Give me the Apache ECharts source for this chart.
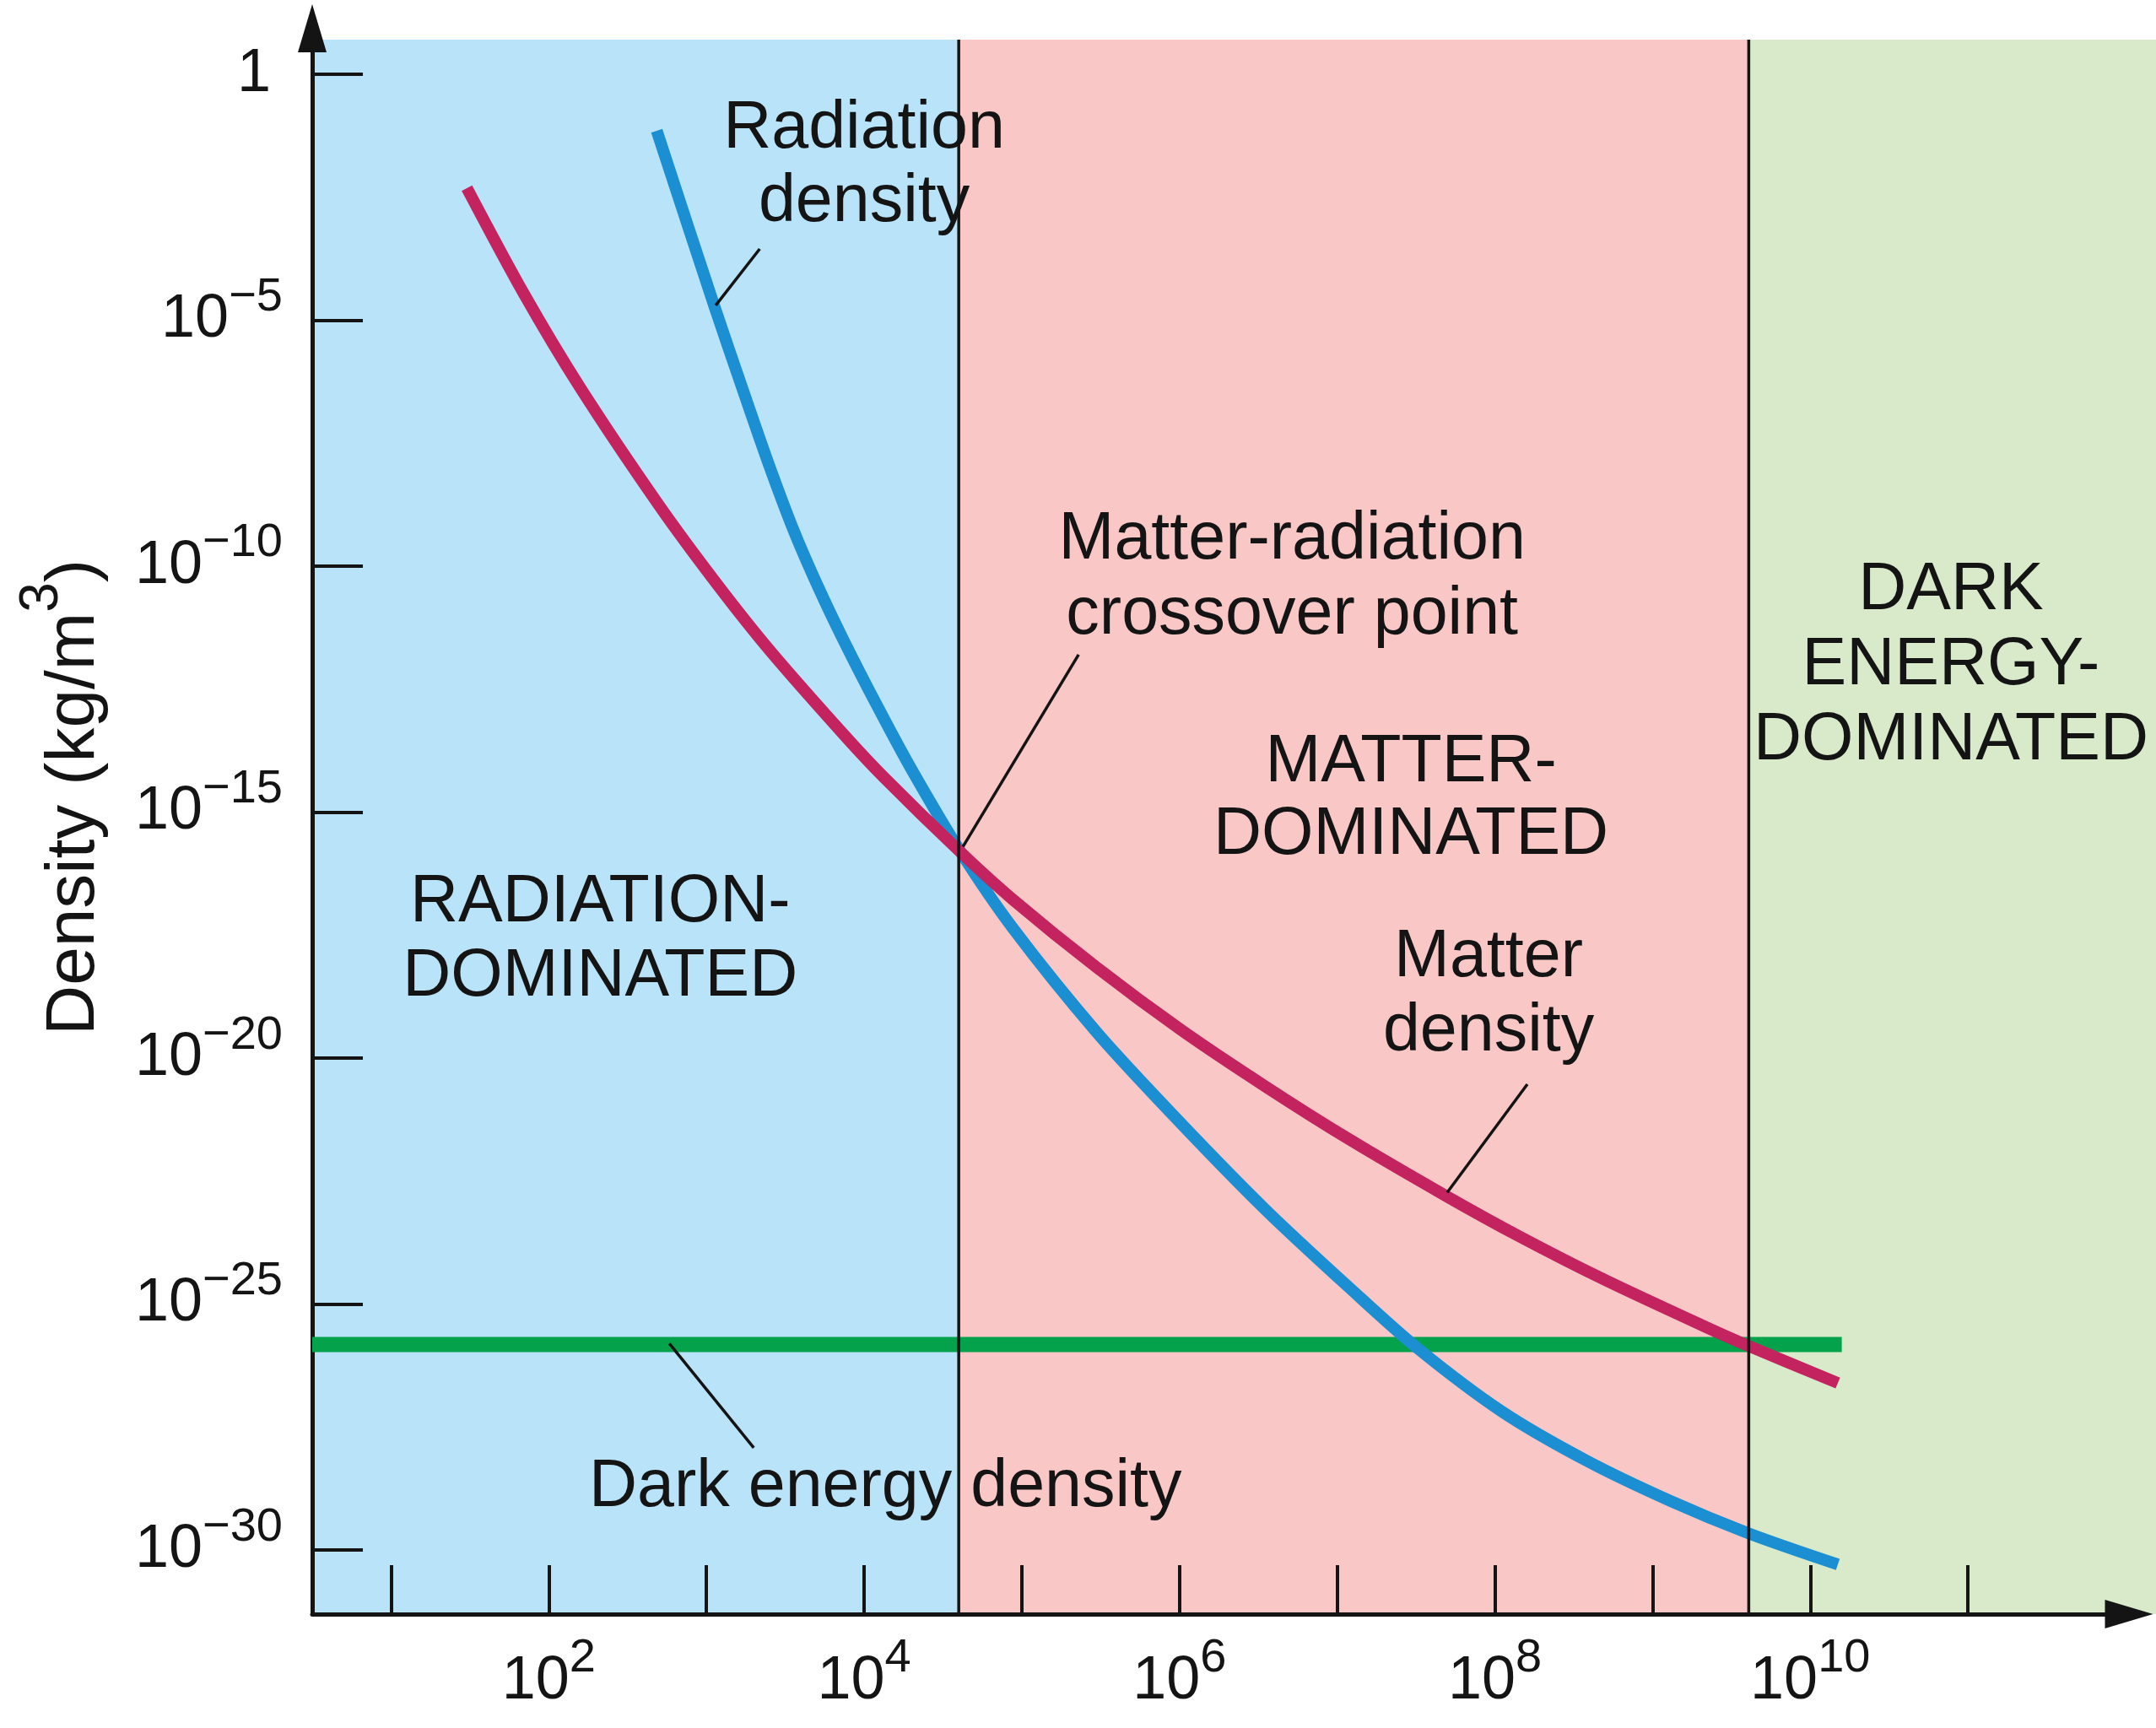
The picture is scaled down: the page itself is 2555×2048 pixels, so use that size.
<!DOCTYPE html>
<html>
<head>
<meta charset="utf-8">
<title>Density of the universe over time</title>
<script src="https://cdn.jsdelivr.net/npm/echarts@6/dist/echarts.min.js"></script>
<style>
  html, body { margin: 0; padding: 0; background: #ffffff; }
  #chart { width: 2555px; height: 2048px; }
</style>
</head>
<body>
<div id="chart"></div>
<script>
// All values are log10: x = log10(time in years), y = log10(density in kg/m^3)
const radiationDensity = [
  [2.685, -1.153], [3.054, -4.754], [3.231, -6.417], [3.391, -7.892], [3.552, -9.264],
  [3.712, -10.447], [3.873, -11.528], [4.087, -12.866], [4.301, -14.135], [4.606, -15.781],
  [4.943, -17.359], [5.478, -19.486], [6.013, -21.338], [6.548, -23.088], [7.083, -24.683],
  [7.511, -25.901], [8.046, -27.187], [8.581, -28.182], [9.116, -29.005], [9.608, -29.657],
  [10.175, -30.291]
];
const matterDensity = [
  [1.481, -2.318], [1.839, -4.445], [2.198, -6.366], [2.696, -8.749], [3.070, -10.378],
  [3.407, -11.733], [3.873, -13.431], [4.124, -14.289], [4.606, -15.798], [4.943, -16.776],
  [5.478, -18.165], [6.013, -19.434], [6.548, -20.583], [7.083, -21.664], [7.687, -22.795],
  [8.153, -23.619], [8.688, -24.493], [9.330, -25.454], [9.608, -25.849], [10.175, -26.603]
];
const darkEnergyDensity = [[0.5, -25.82], [10.2, -25.82]];

// era boundaries, log10(years)
const eraBounds = [[0.5, 4.6], [4.6, 9.61], [9.61, 12.2]];
const eraDividers = [4.6, 9.61];

// tick positions (exponents)
const xTickValues = [1, 2, 3, 4, 5, 6, 7, 8, 9, 10, 11];
const xLabelValues = [2, 4, 6, 8, 10];
const yTickValues = [0, -5, -10, -15, -20, -25, -30];

// annotation texts
const noteTexts = [
  'Radiation\ndensity',
  'Matter-radiation\ncrossover point',
  'RADIATION-\nDOMINATED',
  'MATTER-\nDOMINATED',
  'DARK\nENERGY-\nDOMINATED',
  'Matter\ndensity',
  'Dark energy density'
];

// ---- layout / style ----
const X_MIN = 0.5, X_MAX = 12, Y_MIN = -31.3, Y_MAX = 0.7;
const FONT = '"Liberation Sans", Arial, Helvetica, sans-serif';
const INK = '#141414';
const eraColors = ['#b9e3f8', '#f8c7c6', '#d9eacb'];
const noteAnchors = [
  [4.0, -1.864], [6.714, -10.242], [2.326, -17.60], [7.468, -14.74],
  [10.892, -12.025], [7.96, -18.715], [4.135, -28.73]
];
const noteLineHeight = [87, 89, 88, 86, 89, 88, 88];
const leaderLines = [
  [3.338, -3.553, 3.059, -4.70],
  [5.360, -11.80, 4.627, -15.70],
  [8.206, -20.53, 7.698, -22.73],
  [2.765, -25.80, 3.300, -27.92]
];

const tickRich = {
  b: { fontSize: 72, fontFamily: FONT, color: INK, lineHeight: 110 },
  s: { fontSize: 56, fontFamily: FONT, color: INK, lineHeight: 48, verticalAlign: 'top' },
  one: { fontSize: 72, fontFamily: FONT, color: INK, lineHeight: 110, padding: [0, 14, 0, 0] }
};

const chart = echarts.init(document.getElementById('chart'), null, { renderer: 'canvas' });

const option = {
  animation: false,
  backgroundColor: '#ffffff',
  grid: { left: 370, top: 47, right: 36, bottom: 135, containLabel: false, outerBoundsMode: 'none' },
  xAxis: {
    type: 'value', min: X_MIN, max: X_MAX, z: 3,
    axisLine: {
      show: true, onZero: false,
      symbol: ['none', 'triangle'], symbolSize: [34, 57], symbolOffset: [0, 4],
      lineStyle: { color: INK, width: 5 }
    },
    axisTick: { show: true, inside: true, length: 58, customValues: xTickValues, lineStyle: { color: INK, width: 4 } },
    axisLabel: {
      show: true, customValues: xLabelValues, margin: 25,
      formatter: v => '{b|10}{s|' + v + '}', rich: tickRich
    },
    splitLine: { show: false }
  },
  yAxis: {
    type: 'value', min: Y_MIN, max: Y_MAX, z: 3,
    name: '{n|Density (kg/m}{s|3}{n|)}',
    nameLocation: 'middle', nameRotate: 90, nameGap: 212, nameMoveOverlap: false,
    nameTextStyle: {
      padding: [0, 0, 0, 70],
      rich: {
        n: { fontSize: 82, fontFamily: FONT, color: INK, lineHeight: 140 },
        s: { fontSize: 64, fontFamily: FONT, color: INK, lineHeight: 60, verticalAlign: 'top' }
      }
    },
    axisLine: {
      show: true, onZero: false,
      symbol: ['none', 'triangle'], symbolSize: [34, 57], symbolOffset: [0, 13.5],
      lineStyle: { color: INK, width: 5 }
    },
    axisTick: { show: true, inside: true, length: 60, customValues: yTickValues, lineStyle: { color: INK, width: 4 } },
    axisLabel: {
      show: true, customValues: yTickValues, margin: 35,
      formatter: v => (v === 0 ? '{one|1}' : '{b|10}{s|\u2212' + (-v) + '}'), rich: tickRich
    },
    splitLine: { show: false }
  },
  series: [
    {
      type: 'custom', name: 'eras', z: 1, silent: true, clip: false,
      data: eraBounds,
      renderItem: (params, api) => {
        const a = api.coord([api.value(0), Y_MAX]);
        const b = api.coord([api.value(1), Y_MIN]);
        return {
          type: 'rect',
          shape: { x: a[0], y: a[1], width: b[0] - a[0], height: b[1] - a[1] },
          style: { fill: eraColors[params.dataIndex] }
        };
      }
    },
    {
      type: 'line', name: 'Dark energy density', data: darkEnergyDensity, z: 4,
      symbol: 'none', showSymbol: false, clip: false,
      lineStyle: { color: '#05a24c', width: 18, cap: 'butt' }
    },
    {
      type: 'line', name: 'Radiation density', data: radiationDensity, z: 4,
      smooth: 0.3, symbol: 'none', showSymbol: false, clip: false,
      lineStyle: { color: '#1b8fd2', width: 14, cap: 'butt' }
    },
    {
      type: 'line', name: 'Matter density', data: matterDensity, z: 4,
      smooth: 0.3, symbol: 'none', showSymbol: false, clip: false,
      lineStyle: { color: '#c3235f', width: 14, cap: 'butt' }
    },
    {
      type: 'custom', name: 'era dividers', z: 5, silent: true, clip: false,
      data: eraDividers.map(v => [v, 0]),
      renderItem: (params, api) => {
        const a = api.coord([api.value(0), Y_MAX]);
        const b = api.coord([api.value(0), Y_MIN]);
        return {
          type: 'line',
          shape: { x1: a[0], y1: a[1], x2: b[0], y2: b[1] },
          style: { stroke: INK, lineWidth: 3.5 }
        };
      }
    },
    {
      type: 'custom', name: 'leaders', z: 6, silent: true, clip: false,
      data: leaderLines,
      renderItem: (params, api) => {
        const a = api.coord([api.value(0), api.value(1)]);
        const b = api.coord([api.value(2), api.value(3)]);
        return {
          type: 'line',
          shape: { x1: a[0], y1: a[1], x2: b[0], y2: b[1] },
          style: { stroke: INK, lineWidth: 3.5 }
        };
      }
    },
    {
      type: 'custom', name: 'notes', z: 7, silent: true, clip: false,
      data: noteAnchors,
      renderItem: (params, api) => {
        const p = api.coord([api.value(0), api.value(1)]);
        const i = params.dataIndex;
        return {
          type: 'text', x: p[0], y: p[1],
          style: {
            text: noteTexts[i], fill: INK,
            font: '79px ' + FONT,
            align: 'center', verticalAlign: 'middle',
            lineHeight: noteLineHeight[i]
          }
        };
      }
    }
  ]
};

chart.setOption(option);
</script>
</body>
</html>
